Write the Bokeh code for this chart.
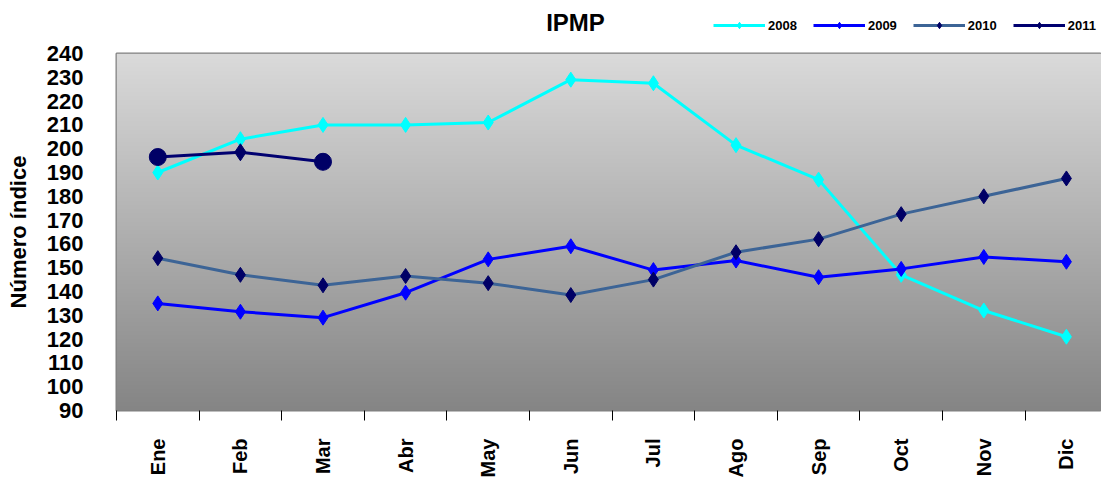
import numpy as np
from bokeh.plotting import figure
from bokeh.layouts import column
from bokeh.models import Range1d, FixedTicker, Legend, LegendItem, ColumnDataSource, Label
from bokeh.embed import file_html
from bokeh.resources import INLINE

# ---------------- data ----------------
months = ["Ene", "Feb", "Mar", "Abr", "May", "Jun", "Jul", "Ago", "Sep", "Oct", "Nov", "Dic"]
y_ticks = list(range(90, 250, 10))
series_names = ["2008", "2009", "2010", "2011"]
s2008 = [190, 204, 210, 210, 211, 229, 227.5, 201.5, 187, 147, 132, 121]
s2009 = [135, 131.5, 129, 139.5, 153.5, 159, 149, 153, 146, 149.5, 154.5, 152.5]
s2010 = [154, 147, 142.6, 146.5, 143.5, 138.5, 145, 156.5, 162, 172.5, 180, 187.5]
s2011 = [196.5, 198.5, 194.5]
m2011 = ["circle", "diamond", "circle"]
title_text = "IPMP"
y_label = "Número índice"

# ---------------- styling ----------------
FONT = "Liberation Sans"
Y0, Y1 = 90, 240
LEFT = 116
FRAME_W = 985
CAT_W = 82.6
X0 = -0.5
X1 = X0 + FRAME_W / CAT_W
HEAD_H = 38
TOP_GAP = 15  # header + gap = 53 (frame top)

line_colors = ["#00FFFF", "#0000FF", "#3C6496", "#000070"]
marker_colors = ["#00FFFF", "#0000FF", "#000066", "#000066"]

# ---------------- header (title + legend) ----------------
h = figure(width=LEFT + FRAME_W, height=HEAD_H, output_backend="svg", toolbar_location=None,
           x_range=Range1d(0, 1), y_range=Range1d(0, 1),
           min_border=0, x_axis_location=None, y_axis_location=None)
h.grid.visible = False
h.outline_line_color = None
h.background_fill_color = "white"
h.border_fill_color = "white"
h.add_layout(Label(x=575 - LEFT, y=HEAD_H - 22, x_units="screen", y_units="screen",
                   text=title_text, text_font=FONT, text_font_size="24px",
                   text_font_style="bold", text_color="black",
                   text_align="center", text_baseline="middle"))
items = []
for name, lc, mc in zip(series_names, line_colors, marker_colors):
    src = ColumnDataSource(dict(x=[float("nan")], y=[float("nan")]))
    r1 = h.line("x", "y", source=src, line_color=lc, line_width=3)
    r2 = h.scatter("x", "y", source=src, marker="diamond", size=9, fill_color=mc, line_color=mc)
    items.append(LegendItem(label=name, renderers=[r1, r2]))
legend = Legend(items=items, orientation="horizontal", location=(713 - LEFT, HEAD_H - 25 - 8),
                glyph_width=52, glyph_height=16, label_standoff=3, spacing=16,
                padding=0, margin=0, border_line_color=None, background_fill_alpha=0,
                label_text_font=FONT, label_text_font_size="13px",
                label_text_font_style="bold", label_text_color="black")
h.add_layout(legend, "center")

# ---------------- main plot ----------------
p = figure(frame_width=FRAME_W, frame_height=357, output_backend="svg", toolbar_location=None,
           x_range=Range1d(X0, X1), y_range=Range1d(Y0, Y1),
           min_border_left=LEFT, min_border_right=0, min_border_top=TOP_GAP, min_border_bottom=65)
p.border_fill_color = "white"
p.outline_line_color = "#808080"
p.outline_line_width = 2

# gradient background of the plot area
n = 256
img = np.empty((n, 1), dtype=np.uint32)
view = img.view(dtype=np.uint8).reshape((n, 1, 4))
t = np.linspace(0, 1, n)  # 0 bottom -> 1 top
top = np.array([218, 218, 218])
bot = np.array([133, 133, 133])
for c in range(3):
    view[:, 0, c] = (bot[c] + (top[c] - bot[c]) * t).astype(np.uint8)
view[:, 0, 3] = 255
p.image_rgba(image=[img], x=X0, y=Y0, dw=X1 - X0, dh=Y1 - Y0)

# grid
p.xgrid.visible = False
p.ygrid.ticker = FixedTicker(ticks=y_ticks)
p.ygrid.grid_line_color = "#7a7a7a"
p.ygrid.grid_line_dash = "6 3"
p.ygrid.grid_line_width = 1

# x axis
xa = p.xaxis[0]
xa.ticker = FixedTicker(ticks=list(range(len(months))),
                        minor_ticks=[i - 0.5 for i in range(len(months) + 1)])
xa.major_label_overrides = {i: m for i, m in enumerate(months)}
xa.major_label_orientation = np.pi / 2
xa.major_label_text_font = FONT
xa.major_label_text_font_size = "20px"
xa.major_label_text_font_style = "bold"
xa.major_label_text_color = "black"
xa.major_label_standoff = 18
xa.major_tick_out = 0
xa.major_tick_in = 0
xa.major_tick_line_color = None
xa.minor_tick_line_color = "black"
xa.minor_tick_out = 10
xa.minor_tick_in = 0
xa.axis_line_color = None

# y axis
ya = p.yaxis[0]
ya.ticker = FixedTicker(ticks=y_ticks)
ya.major_label_text_font = FONT
ya.major_label_text_font_size = "22px"
ya.major_label_text_font_style = "bold"
ya.major_label_text_color = "black"
ya.major_label_standoff = 33
ya.major_tick_out = 0
ya.major_tick_in = 0
ya.major_tick_line_color = None
ya.minor_tick_line_color = None
ya.axis_line_color = None
ya.axis_label = y_label
ya.axis_label_text_font = FONT
ya.axis_label_text_font_size = "22px"
ya.axis_label_text_font_style = "bold"
ya.axis_label_text_color = "black"
ya.axis_label_standoff = 13

# series
x12 = list(range(len(months)))
specs = [
    (s2008, line_colors[0], marker_colors[0], ["diamond"] * len(s2008), 15),
    (s2009, line_colors[1], marker_colors[1], ["diamond"] * len(s2009), 15),
    (s2010, line_colors[2], marker_colors[2], ["diamond"] * len(s2010), 15),
    (s2011, line_colors[3], marker_colors[3], m2011, 17),
]
for vals, lc, mc, mk, sz in specs:
    xs = x12[:len(vals)]
    src = ColumnDataSource(dict(x=xs, y=vals, m=mk))
    p.line("x", "y", source=src, line_color=lc, line_width=3)
    p.scatter("x", "y", source=src, marker="m", size=sz, fill_color=mc, line_color=mc)

layout = column(h, p, spacing=0)
open("out.html", "w").write(file_html(layout, INLINE))
